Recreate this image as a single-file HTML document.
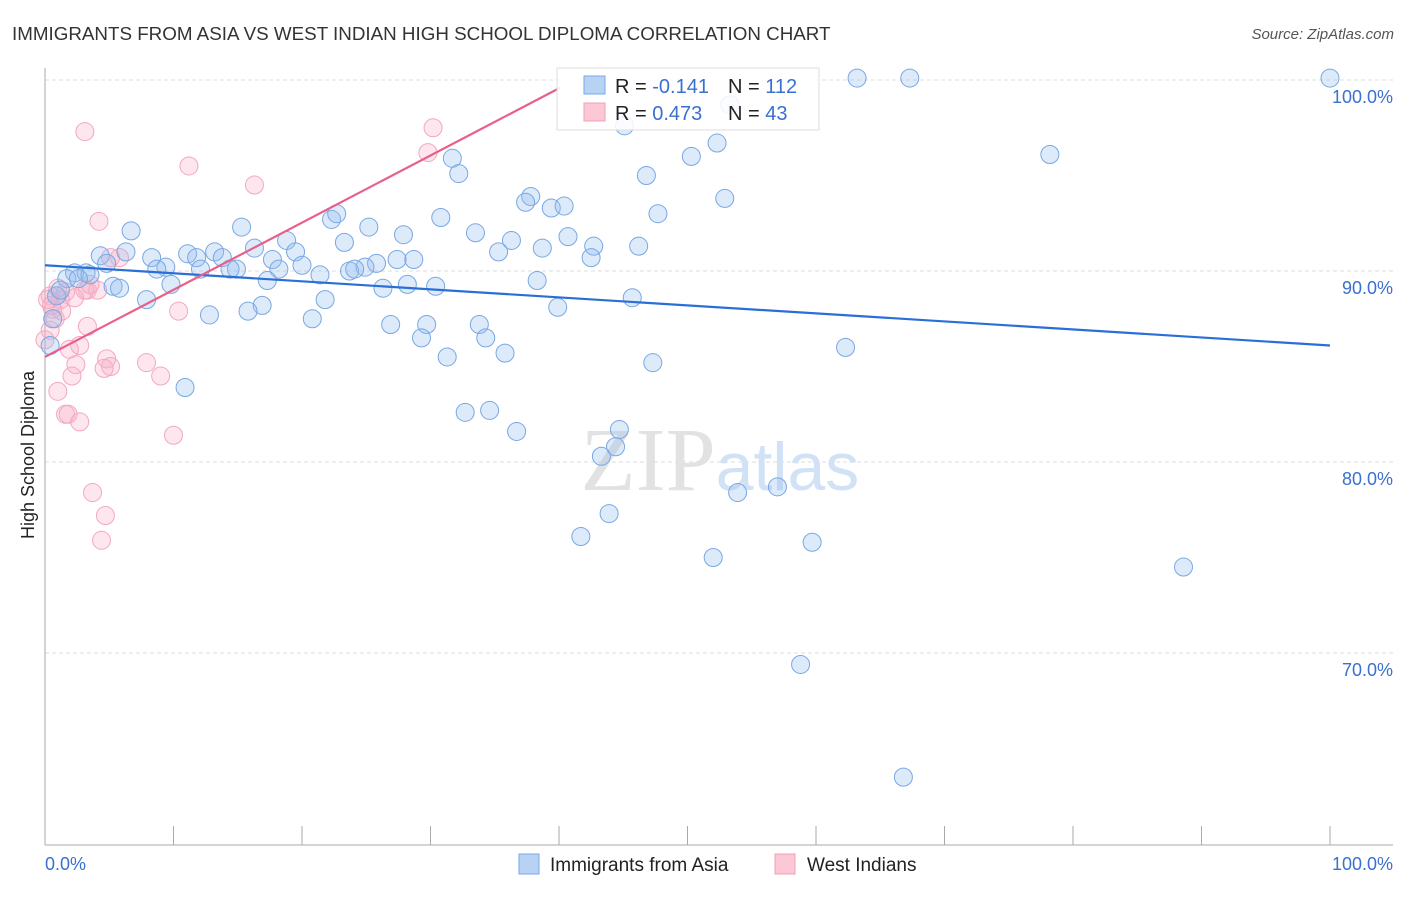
<!DOCTYPE html>
<html><head><meta charset="utf-8"><style>
body{margin:0;background:#fff;font-family:"Liberation Sans",sans-serif;}
</style></head><body>
<svg width="1406" height="892" viewBox="0 0 1406 892">
<text x="12" y="40" font-size="18.8" fill="#333">IMMIGRANTS FROM ASIA VS WEST INDIAN HIGH SCHOOL DIPLOMA CORRELATION CHART</text>
<text x="1394" y="39" font-size="15" fill="#555" text-anchor="end" font-style="italic">Source: ZipAtlas.com</text>
<g id="grid"></g>
<text x="720" y="490" font-size="90" fill="#e2e2e2" text-anchor="middle" font-family="Liberation Serif,serif">ZIP<tspan fill="#d2e2f6" font-family="Liberation Sans,sans-serif" font-size="68">atlas</tspan></text>
<g id="pts"></g>
<g id="lines"></g>
<text transform="translate(34,455) rotate(-90)" font-size="18" fill="#222" text-anchor="middle">High School Diploma</text>
<text x="45" y="870" font-size="18" fill="#3a70d0">0.0%</text>
<text x="1393" y="870" font-size="18" fill="#3a70d0" text-anchor="end">100.0%</text>
<g>
<rect x="557" y="68" width="262" height="62" fill="rgba(255,255,255,0.85)" stroke="#ddd"/>
<rect x="584" y="76" width="21" height="18" fill="#b8d2f4" stroke="#7aa8e8"/>
<rect x="584" y="103" width="21" height="18" fill="#fcc8d6" stroke="#f0a0b8"/>
<text x="615" y="93" font-size="20" fill="#222">R = <tspan fill="#3a70d0">-0.141</tspan></text>
<text x="728" y="93" font-size="20" fill="#222">N = <tspan fill="#3a70d0">112</tspan></text>
<text x="615" y="120" font-size="20" fill="#222">R = <tspan fill="#3a70d0"> 0.473</tspan></text>
<text x="728" y="120" font-size="20" fill="#222">N = <tspan fill="#3a70d0"> 43</tspan></text>
</g>
<g>
<rect x="519" y="854" width="20" height="20" fill="#b8d2f4" stroke="#7aa8e8"/>
<text x="550" y="871" font-size="19" fill="#222">Immigrants from Asia</text>
<rect x="775" y="854" width="20" height="20" fill="#fcc8d6" stroke="#f0a0b8"/>
<text x="807" y="871" font-size="19" fill="#222">West Indians</text>
</g>
</svg>
<script>
const yTicks=[100,90,80,70];
const yTickLabels=["100.0%","90.0%","80.0%","70.0%"];
const xTicks=[0,10,20,30,40,50,60,70,80,90,100];
const asiaX=[100,63.2,67.3,53.3,45.1,31.7,32.2,50.3,52.3,78.2,46.8,37.8,37.4,39.4,40.4,47.7,52.9,30.8,22.3,22.7,25.2,33.5,27.9,36.3,38.7,40.7,42.7,46.2,35.3,42.5,6.7,15.3,16.3,18.8,23.3,6.3,4.3,8.3,11.1,11.8,13.2,13.8,17.7,19.5,27.4,28.7,25.8,24.9,23.7,24.1,21.4,20.0,18.2,14.9,12.1,9.4,8.7,2.3,3.2,3.5,1.7,2.6,4.8,5.3,5.8,17.3,14.4,38.3,26.3,28.2,30.4,9.8,7.9,21.8,16.9,15.8,12.8,20.8,26.9,29.7,29.3,33.8,34.3,35.8,31.3,39.9,45.7,47.3,62.3,10.9,32.7,34.6,36.7,44.7,44.4,43.3,53.9,57.0,41.7,43.9,52.0,59.7,88.6,58.8,66.8,0.9,0.6,0.4,1.2];
const asiaY=[100.1,100.1,100.1,98.7,97.6,95.9,95.1,96.0,96.7,96.1,95.0,93.9,93.6,93.3,93.4,93.0,93.8,92.8,92.7,93.0,92.3,92.0,91.9,91.6,91.2,91.8,91.3,91.3,91.0,90.7,92.1,92.3,91.2,91.6,91.5,91.0,90.8,90.7,90.9,90.7,91.0,90.7,90.6,91.0,90.6,90.6,90.4,90.2,90.0,90.1,89.8,90.3,90.1,90.1,90.1,90.2,90.1,89.9,89.9,89.8,89.6,89.6,90.4,89.2,89.1,89.5,90.1,89.5,89.1,89.3,89.2,89.3,88.5,88.5,88.2,87.9,87.7,87.5,87.2,87.2,86.5,87.2,86.5,85.7,85.5,88.1,88.6,85.2,86.0,83.9,82.6,82.7,81.6,81.7,80.8,80.3,78.4,78.7,76.1,77.3,75.0,75.8,74.5,69.4,63.5,88.7,87.5,86.1,89.0];
const wiX=[3.1,11.2,16.3,30.2,29.8,4.2,5.8,1.0,0.4,0.6,1.2,1.6,3.3,4.1,2.3,0.4,3.3,2.7,1.9,4.8,5.1,2.4,4.6,7.9,9.0,2.1,1.0,1.6,1.8,2.7,10.0,3.7,4.7,4.4,10.4,3.1,0.8,5.1,3.5,0.2,0.5,1.3,0.0];
const wiY=[97.3,95.5,94.5,97.5,96.2,92.6,90.7,89.1,88.7,88.0,88.5,88.9,89.0,89.0,88.6,86.9,87.1,86.1,85.9,85.4,85.0,85.1,84.9,85.2,84.5,84.5,83.7,82.5,82.5,82.1,81.4,78.4,77.2,75.9,87.9,89.0,87.5,90.7,89.3,88.5,88.2,87.9,86.4];
const asiaTrend=[[0,90.3],[100,86.1]];
const wiTrend=[[0,85.5],[40.1,99.6]];
const NS="http://www.w3.org/2000/svg";
const sx=v=>45+v*12.85;
const sy=v=>80+(100-v)*19.1;
function mk(tag,attrs,parent){const e=document.createElementNS(NS,tag);for(const k in attrs)e.setAttribute(k,attrs[k]);parent.appendChild(e);return e;}
const grid=document.getElementById('grid');
yTicks.forEach((t,i)=>{
 const l=mk('line',{x1:45,x2:1393,y1:sy(t),y2:sy(t),stroke:'#ddd','stroke-dasharray':'4,3'},grid);
 
 
 const tx=mk('text',{x:1393,y:sy(t)+23,'font-size':18,fill:'#3a70d0','text-anchor':'end'},grid);
 tx.textContent=yTickLabels[i];
 
 
});
const ax=mk('line',{x1:45,x2:45,y1:68,y2:845,stroke:'#aaa'},grid);


const bx=mk('line',{x1:45,x2:1393,y1:845,y2:845,stroke:'#aaa'},grid);


xTicks.forEach(t=>{
 const l=mk('line',{x1:sx(t),x2:sx(t),y1:826,y2:845,stroke:'#aaa'},grid);
 
 
});
const pts=document.getElementById('pts');
wiX.forEach((x,i)=>{
 const c=mk('circle',{cx:sx(x),cy:sy(wiY[i]),r:9,fill:'rgba(248,176,198,0.32)',stroke:'#f2a8c0','stroke-width':1},pts);
 
 
});
asiaX.forEach((x,i)=>{
 const c=mk('circle',{cx:sx(x),cy:sy(asiaY[i]),r:9,fill:'rgba(150,190,240,0.32)',stroke:'#78a8e4','stroke-width':1},pts);
 
 
});
const lines=document.getElementById('lines');
const bl=mk('line',{x1:sx(asiaTrend[0][0]),y1:sy(asiaTrend[0][1]),x2:sx(asiaTrend[1][0]),y2:sy(asiaTrend[1][1]),stroke:'#2a6fd6','stroke-width':2.2},lines);


const pl=mk('line',{x1:sx(wiTrend[0][0]),y1:sy(wiTrend[0][1]),x2:sx(wiTrend[1][0]),y2:sy(wiTrend[1][1]),stroke:'#e8608a','stroke-width':2.2},lines);


</script>
</body></html>
